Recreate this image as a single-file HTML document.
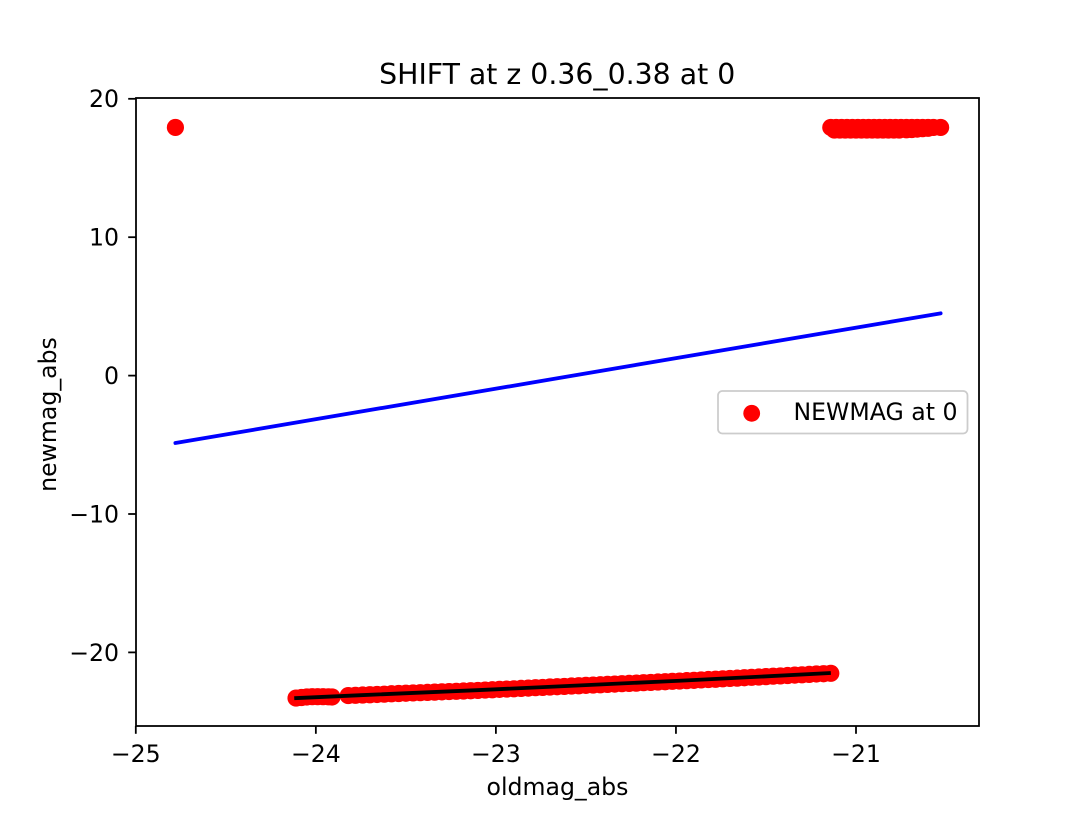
<!DOCTYPE html>
<html>
<head>
<meta charset="utf-8">
<title>SHIFT at z 0.36_0.38 at 0</title>
<style>
html,body{margin:0;padding:0;background:#fff;}
svg{display:block;font-family:"DejaVu Sans","Liberation Sans",sans-serif;}
</style>
</head>
<body>
<svg id="chart" xmlns="http://www.w3.org/2000/svg" width="1088" height="816" viewBox="0 0 1088 816"></svg>
<script>
const xTicks = [-25, -24, -23, -22, -21];
const yTicks = [-20, -10, 0, 10, 20];
const chartTitle = "SHIFT at z 0.36_0.38 at 0";
const xAxisLabel = "oldmag_abs";
const yAxisLabel = "newmag_abs";
const legendLabel = "NEWMAG at 0";

const outlierX = [-24.78];
const outlierY = [17.93];

const upperX = [-21.14,-21.11,-21.08,-21.05,-21.02,-20.99,-20.96,-20.93,-20.90,-20.87,-20.84,-20.81,-20.78,-20.75,-20.72,-20.69,-20.66,-20.63,-20.60,-20.57,-20.53,
  -21.12,-21.09,-21.06,-21.03,-21.00,-20.97,-20.94,-20.91,-20.88,-20.85,-20.82,-20.79,-20.76,-20.72,-20.69,-20.66,-20.63,-20.60];
const upperY = [17.93,17.93,17.93,17.93,17.93,17.93,17.93,17.93,17.93,17.93,17.93,17.93,17.93,17.93,17.93,17.93,17.93,17.93,17.93,17.93,17.93,
  17.74,17.74,17.74,17.74,17.74,17.74,17.74,17.74,17.74,17.74,17.74,17.74,17.74,17.76,17.78,17.81,17.84,17.87];

const lowerLeftX = [-24.11,-24.08,-24.05,-24.02,-23.99,-23.96,-23.93,-23.91];
const lowerLeftY = [-23.30,-23.26,-23.22,-23.20,-23.20,-23.20,-23.21,-23.22];

const lowerX = [-23.82,-23.78,-23.74,-23.70,-23.66,-23.62,-23.58,-23.54,-23.50,-23.46,-23.42,-23.38,-23.34,-23.30,-23.26,-23.22,-23.18,-23.14,-23.10,-23.06,-23.02,-22.98,-22.94,-22.90,-22.86,-22.82,-22.78,-22.74,-22.70,-22.66,-22.62,-22.58,-22.54,-22.50,-22.46,-22.42,-22.38,-22.34,-22.30,-22.26,-22.22,-22.18,-22.14,-22.10,-22.06,-22.02,-21.98,-21.94,-21.90,-21.86,-21.82,-21.78,-21.74,-21.70,-21.66,-21.62,-21.58,-21.54,-21.50,-21.46,-21.42,-21.38,-21.34,-21.30,-21.26,-21.22,-21.18,-21.14];
const lowerY = [-23.12,-23.10,-23.08,-23.06,-23.04,-23.02,-22.99,-22.97,-22.95,-22.93,-22.91,-22.89,-22.87,-22.85,-22.83,-22.81,-22.79,-22.77,-22.75,-22.72,-22.70,-22.67,-22.65,-22.63,-22.60,-22.58,-22.55,-22.53,-22.50,-22.48,-22.46,-22.43,-22.41,-22.38,-22.36,-22.34,-22.31,-22.29,-22.26,-22.24,-22.22,-22.19,-22.17,-22.14,-22.12,-22.09,-22.07,-22.04,-22.02,-21.99,-21.96,-21.94,-21.91,-21.88,-21.86,-21.83,-21.80,-21.78,-21.75,-21.72,-21.70,-21.67,-21.64,-21.62,-21.59,-21.56,-21.54,-21.51];

const blackLineX = [-24.12,-23.75,-23.09,-22.53,-21.98,-21.14];
const blackLineY = [-23.31,-23.09,-22.72,-22.38,-22.05,-21.49];

const blueLineX = [-24.78,-20.53];
const blueLineY = [-4.87,4.50];

const svg = document.getElementById('chart');
const NS = 'http://www.w3.org/2000/svg';
const plot = {left:136, right:979, top:98, bottom:726};

function xScale(v){ return 135.8 + (v + 25) * 180.05; }
function yScale(v){ return 375.6 - v * 13.84; }
function fmt(v){ return v < 0 ? '\u2212' + Math.abs(v) : String(v); }

function make(tag, attrs, parent){
  const el = document.createElementNS(NS, tag);
  for (const k in attrs) el.setAttribute(k, attrs[k]);
  (parent || svg).appendChild(el);
  return el;
}

const bg = make('rect', {x:plot.left, y:plot.top, width:plot.right-plot.left, height:plot.bottom-plot.top, fill:'#fff'});



const pointsGroup = make('g', {fill:'#ff0000'});



function drawPoints(xs, ys){
  xs.forEach(function(x, i){
    const c = make('circle', {cx:xScale(x), cy:yScale(ys[i]), r:8.6}, pointsGroup);
    
    
  });
}
drawPoints(outlierX, outlierY);
drawPoints(upperX, upperY);
drawPoints(lowerLeftX, lowerLeftY);
drawPoints(lowerX, lowerY);

function linePoints(xs, ys){
  return xs.map(function(x, i){ return xScale(x).toFixed(2) + ',' + yScale(ys[i]).toFixed(2); }).join(' ');
}

const blackLine = make('polyline', {points:linePoints(blackLineX, blackLineY), fill:'none', stroke:'#000', 'stroke-width':3.8, 'stroke-linejoin':'round'});



const blueLine = make('polyline', {points:linePoints(blueLineX, blueLineY), fill:'none', stroke:'#0000ff', 'stroke-width':3.8, 'stroke-linejoin':'round', 'stroke-linecap':'round'});



xTicks.forEach(function(t){
  const px = xScale(t);
  const tick = make('line', {x1:px, x2:px, y1:plot.bottom, y2:plot.bottom+7.8, stroke:'#000', 'stroke-width':1.78});
  
  
  const label = make('text', {x:px, y:762, 'text-anchor':'middle', 'font-size':23.6, fill:'#000'});
  label.textContent = fmt(t);
  
  
});

yTicks.forEach(function(t){
  const py = yScale(t);
  const tick = make('line', {x1:plot.left-7.8, x2:plot.left, y1:py, y2:py, stroke:'#000', 'stroke-width':1.78});
  
  
  const label = make('text', {x:119, y:py+8.4, 'text-anchor':'end', 'font-size':23.6, fill:'#000'});
  label.textContent = fmt(t);
  
  
});

const frame = make('rect', {x:plot.left, y:plot.top, width:plot.right-plot.left, height:plot.bottom-plot.top, fill:'none', stroke:'#000', 'stroke-width':1.78});



const title = make('text', {x:557.2, y:84, 'text-anchor':'middle', 'font-size':28.35, fill:'#000'});
title.textContent = chartTitle;



const xLabel = make('text', {x:557.5, y:795, 'text-anchor':'middle', 'font-size':23.6, fill:'#000'});
xLabel.textContent = xAxisLabel;



const yLabel = make('text', {x:0, y:0, transform:'translate(56 414.5) rotate(-90)', 'text-anchor':'middle', 'font-size':23.6, fill:'#000'});
yLabel.textContent = yAxisLabel;



const legend = make('g', {});



const legendBox = make('rect', {x:718, y:391, width:249.5, height:42.5, rx:4.4, ry:4.4, fill:'#fff', 'fill-opacity':0.8, stroke:'#cccccc', 'stroke-width':1.78}, legend);



const legendMarker = make('circle', {cx:751.7, cy:413.3, r:8.4, fill:'#ff0000'}, legend);



const legendText = make('text', {x:793.5, y:420, 'font-size':23.6, fill:'#000'}, legend);
legendText.textContent = legendLabel;


</script>
</body>
</html>
